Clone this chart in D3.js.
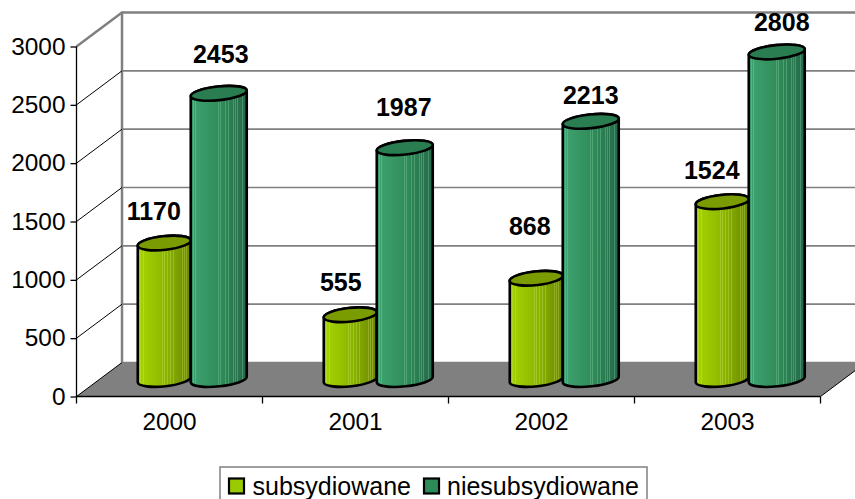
<!DOCTYPE html>
<html><head><meta charset="utf-8">
<script src="https://cdn.jsdelivr.net/npm/d3@7"></script>
<style>html,body{margin:0;padding:0;background:#fff;overflow:hidden}svg{display:block}text{font-family:"Liberation Sans",Arial,sans-serif}</style>
</head><body><svg id="c" width="855" height="499"></svg>
<script>
const categories = ["2000","2001","2002","2003"];
const seriesNames = ["subsydiowane","niesubsydiowane"];
const subsydiowane = [1170,555,868,1524];
const niesubsydiowane = [2453,1987,2213,2808];
const yTicks = [0,500,1000,1500,2000,2500,3000];
// hand-placed data labels, as offsets from the bar top
const labelDx = [[-10.5,2],[-9.5,-1],[-6.5,0],[-10.5,5]];
const labelDy = [[-32,-39],[-32,-40],[-52,-26],[-31,-29]];

const svg = d3.select("#c");
const W=855,H=499, dx=45.5, dy=-34;
const y = d3.scaleLinear().domain([0,3000]).range([396.5,46.5]);
const x = d3.scaleBand().domain(categories).range([76.5,820.5]);
const gray="#808080";

const defs = svg.append("defs");
function grad(id,c0,c1,c2,stripe){
  const g=defs.append("linearGradient").attr("id",id).attr("x1",0).attr("x2",1).attr("y1",0).attr("y2",0);
  const ramp=d3.scaleLinear().domain([0,.1,.55,1]).range([c0,c0,c1,c2]);
  const stripes=[.05,.08,.11,.47,.5,.53,.56,.62,.68,.72,.76,.8,.84,.88,.92];
  const add=(o,c)=>g.append("stop").attr("offset",o).attr("stop-color",c);
  add(0,ramp(0));
  stripes.forEach(s=>{
    add(s-.006,ramp(s-.006));
    add(s-.006,d3.interpolateRgb(ramp(s),stripe)(.28));
    add(s+.006,d3.interpolateRgb(ramp(s),stripe)(.28));
    add(s+.006,ramp(s+.006));
  });
  add(1,ramp(1));
}
grad("g0","#a2d000","#8ab400","#6b8400","#d8f080");
grad("g1","#3c9f6e","#2e8b57","#25684a","#a8e0c0");

// walls
const bx=x.range()[0]+dx, rx=x.range()[1];
svg.append("path").attr("fill",gray)
  .attr("d",`M${x.range()[0]},${y(0)}L${bx},${y(0)+dy}L${rx+dx},${y(0)+dy}L${rx},${y(0)}Z`);
// gridlines on back wall and left wall
svg.append("g").selectAll("line").data(yTicks).join("line")
  .attr("x1",bx).attr("x2",W).attr("y1",d=>y(d)+dy).attr("y2",d=>y(d)+dy)
  .attr("stroke",gray).attr("stroke-width",d=>d===3000?2.5:1.6);
svg.append("line").attr("x1",bx).attr("x2",bx).attr("y1",y(3000)+dy-1).attr("y2",y(0)+dy).attr("stroke",gray).attr("stroke-width",2.5);
svg.append("g").selectAll("line").data(yTicks).join("line")
  .attr("x1",x.range()[0]).attr("x2",bx).attr("y1",d=>y(d)).attr("y2",d=>y(d)+dy)
  .attr("stroke",d=>d===3000?gray:"#000").attr("stroke-width",d=>d===3000?2.5:1);
svg.append("line").attr("x1",rx).attr("x2",rx+dx).attr("y1",y(0)).attr("y2",y(0)+dy).attr("stroke","#000").attr("stroke-width",1);

// axes
const ya=svg.append("g").attr("transform",`translate(${x.range()[0]},0)`)
  .call(d3.axisLeft(y).tickValues(yTicks).tickSize(6).tickPadding(5).tickFormat(d3.format("d")));
ya.selectAll("path").attr("d",`M0,${y(3000)}V${y(0)}`).attr("stroke","#000").attr("stroke-width",1.3);
ya.selectAll("line").attr("stroke","#000").attr("stroke-width",1.3);
ya.selectAll("text").attr("font-size",24.4).attr("fill","#000").style("font-family",'"Liberation Sans"');

const xa=svg.append("g").attr("transform",`translate(0,${y(0)})`)
  .call(d3.axisBottom(x).tickSize(0).tickPadding(16));
xa.select("path").attr("d",`M${x.range()[0]},0H${rx}`).attr("stroke","#000").attr("stroke-width",1.3);
xa.selectAll("text").attr("font-size",24.4).attr("fill","#000").style("font-family",'"Liberation Sans"');
xa.append("g").selectAll("line").data([...categories.map(c=>x(c)),rx]).join("line")
  .attr("x1",d=>d).attr("x2",d=>d).attr("y1",0).attr("y2",7).attr("stroke","#000").attr("stroke-width",1.3);

// cylinders
const barW=[53,56], ry=6.8, tilt=-6, tiltDy=3;
function cyl(g,cx,bw,v,s,top){
  const r=bw/2, yb=y(0)+dy/2, yt=y(v)+dy/2;
  const p=`M${cx-r},${yt+tiltDy}L${cx-r},${yb+tiltDy}A${r},${ry} ${tilt} 0 0 ${cx+r},${yb-tiltDy}L${cx+r},${yt-tiltDy}A${r},${ry} ${tilt} 0 0 ${cx-r},${yt+tiltDy}Z`;
  g.append("path").attr("d",p).attr("fill",`url(#g${s})`).attr("stroke","#000").attr("stroke-width",2.6).attr("stroke-linejoin","round");
  g.append("path").attr("d",`M${cx-r},${yt+tiltDy}A${r},${ry} ${tilt} 1 1 ${cx+r},${yt-tiltDy}A${r},${ry} ${tilt} 1 1 ${cx-r},${yt+tiltDy}Z`)
    .attr("fill",top).attr("stroke","#000").attr("stroke-width",2.6);
}
const bars=svg.append("g");
const series=[subsydiowane,niesubsydiowane], tops=["#7a9c00","#2a7d50"];
const barCx=(c,s)=>x(c)+x.bandwidth()/2+dx/2-1.5+(s===0?-barW[0]/2:barW[1]/2);
categories.forEach(c=>{
  series.forEach((vals,s)=>{
    cyl(bars,barCx(c,s),barW[s],vals[categories.indexOf(c)],s,tops[s]);
  });
});
// data labels
categories.forEach((c,i)=>{
  series.forEach((vals,s)=>{
    svg.append("text").attr("x",barCx(c,s)+labelDx[i][s]).attr("y",y(vals[i])+dy/2+labelDy[i][s]+8.5)
      .attr("text-anchor","middle").attr("font-size",25).attr("font-weight","bold").attr("fill","#000").text(vals[i]);
  });
});

// legend
const lg=svg.append("g");
lg.append("rect").attr("x",220).attr("y",467).attr("width",427).attr("height",40).attr("fill","#fff").attr("stroke",gray).attr("stroke-width",1.5);
const lx=[229,424], ltx=[252.5,447];
seriesNames.forEach((n,i)=>{
  lg.append("rect").attr("x",lx[i]).attr("y",478.5).attr("width",15).attr("height",15).attr("fill",["#9acb00","#2e8b57"][i]).attr("stroke","#000").attr("stroke-width",2.2);
  lg.append("text").attr("x",ltx[i]).attr("y",495).attr("font-size",25).attr("fill","#000").text(n);
});
</script></body></html>
